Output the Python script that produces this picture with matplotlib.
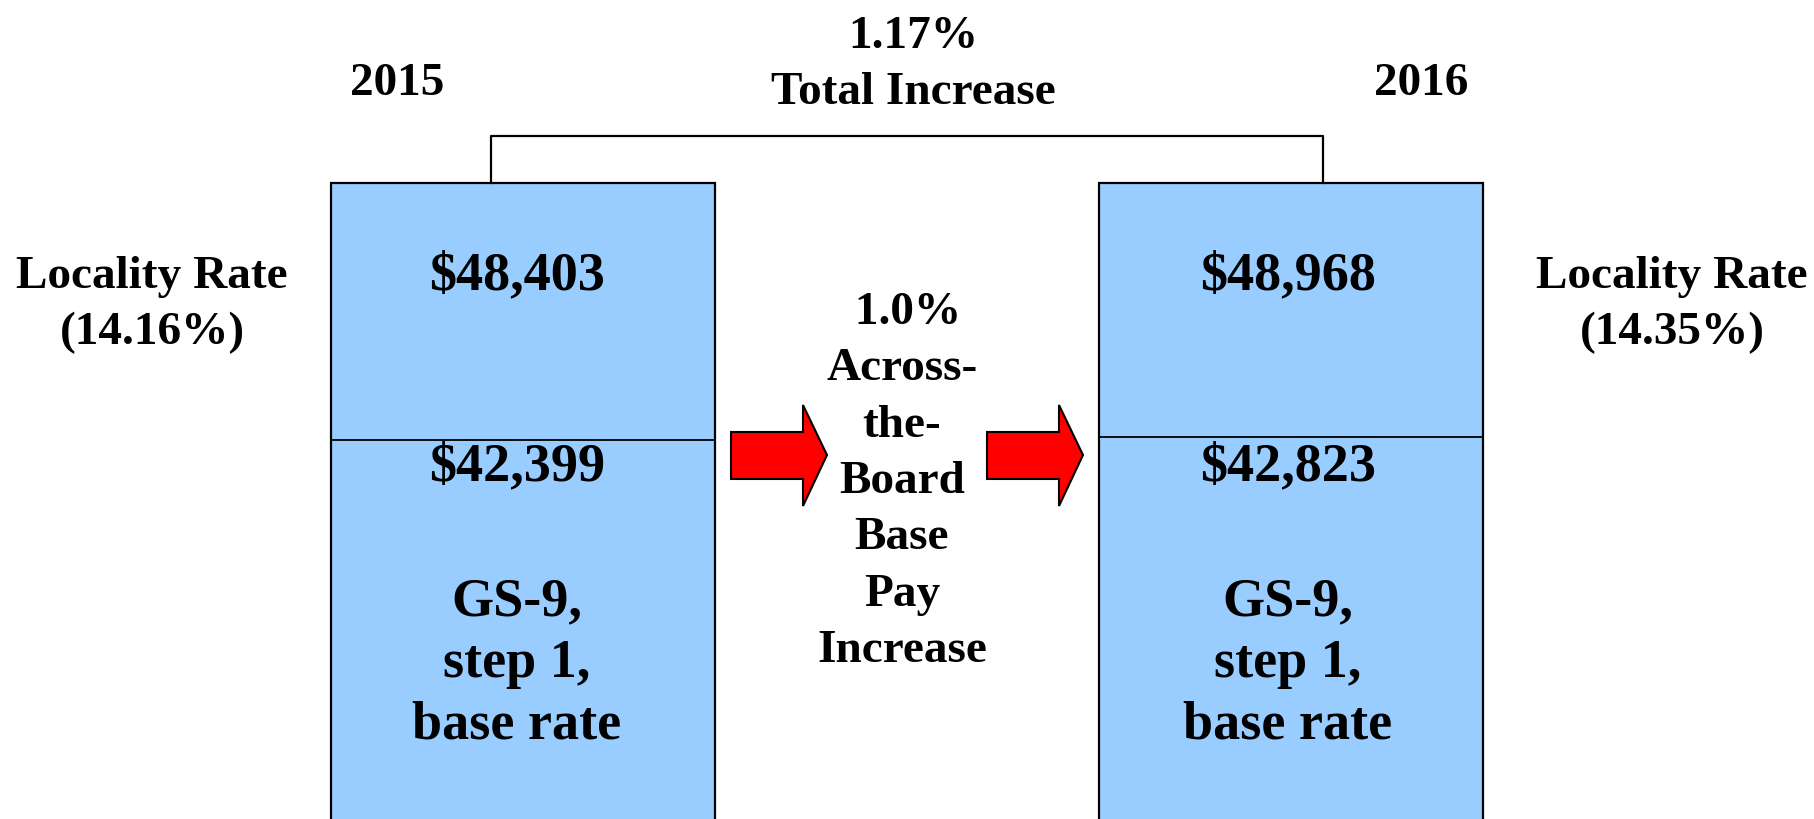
import matplotlib.pyplot as plt
from matplotlib.patches import Rectangle, Polygon

# data
years = ["2015", "2016"]
total_locality = ["$48,403", "$48,968"]
base_pay = ["$42,399", "$42,823"]
locality_rates = ["14.16%", "14.35%"]
total_increase = "1.17%"
atb_increase = "1.0%"
grade_label = "GS-9,\nstep 1,\nbase rate"

W, H = 1815, 819
fig = plt.figure(figsize=(W / 100, H / 100), dpi=100)
ax = fig.add_axes([0, 0, 1, 1])
ax.set_xlim(0, W)
ax.set_ylim(H, 0)
ax.axis("off")

plt.rcParams["font.family"] = ["Liberation Serif", "DejaVu Serif"]
font = dict(fontweight="bold", color="black", ha="center", va="center")

box_color = "#99CCFF"
# x0, x1, divider y, text centre x
boxes = [(331, 715, 440, 517), (1099, 1483, 437, 1288)]
box_top = 183
big = 39
mid = 34

for i, (x0, x1, div, cx) in enumerate(boxes):
    ax.add_patch(Rectangle((x0, box_top), x1 - x0, H + 20 - box_top,
                           facecolor=box_color, edgecolor="black", lw=1.6))
    ax.plot([x0, x1], [div, div], color="black", lw=1.3)
    ax.text(cx, 276, total_locality[i], fontsize=big, **font)
    ax.text(cx, 467, base_pay[i], fontsize=big, **font)
    ax.text(cx, 664, grade_label, fontsize=big, linespacing=1.3, **font)

# year labels
ax.text(397, 84, years[0], fontsize=mid, **font)
ax.text(1421, 84, years[1], fontsize=mid, **font)

# locality labels
for cx, rate in zip([152, 1672], locality_rates):
    ax.text(cx, 305, "Locality Rate\n(" + rate + ")", fontsize=mid,
            linespacing=1.4, **font)

# bracket on top
ax.plot([491, 491, 1323, 1323], [box_top, 136, 136, box_top], color="black", lw=1.6)
ax.text(913, 65, total_increase + "\nTotal Increase", fontsize=mid,
        linespacing=1.45, **font)

# red arrows
for x0, xh, xt in [(731, 803, 827), (987, 1059, 1083)]:
    pts = [(x0, 432), (xh, 432), (xh, 405), (xt, 455), (xh, 506), (xh, 479), (x0, 479)]
    ax.add_patch(Polygon(pts, closed=True, facecolor="#FF0000", edgecolor="black", lw=1.5))

# middle text
ax.text(902, 482, " " + atb_increase + "\nAcross-\nthe-\nBoard\nBase\nPay\nIncrease",
        fontsize=mid, linespacing=1.45, **font)

fig.savefig("out.png", dpi=100)
